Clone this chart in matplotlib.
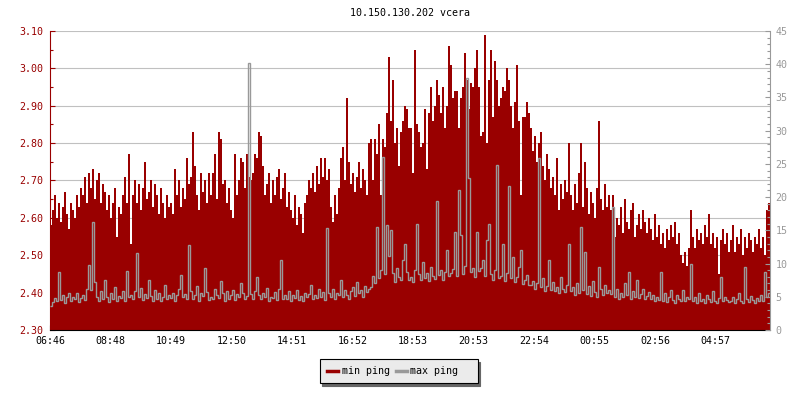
import numpy as np
import matplotlib
matplotlib.use("Agg")
import matplotlib.pyplot as plt
from matplotlib.lines import Line2D
from matplotlib.ticker import MultipleLocator, FormatStrFormatter

title = "10.150.130.202 vcera"
series_names = ["min ping", "max ping"]
step_min = 4            # minutes per sample
tick_step_min = 121     # minutes between time labels
tick_labels = ["06:46", "08:48", "10:49", "12:50", "14:51", "16:52",
               "18:53", "20:53", "22:54", "00:55", "02:56", "04:57"]

# min ping [ms] (left axis), 4-minute samples from 06:46
min_ping = [
    2.58, 2.62, 2.66, 2.60, 2.64, 2.59, 2.63, 2.67, 2.61, 2.57, 2.64, 2.62, 2.60, 2.66, 2.63, 2.68, 2.66, 2.71, 2.64, 2.72,
    2.68, 2.73, 2.65, 2.70, 2.72, 2.64, 2.69, 2.67, 2.62, 2.66, 2.60, 2.64, 2.68, 2.55, 2.63, 2.61, 2.66, 2.71, 2.64, 2.77,
    2.53, 2.66, 2.70, 2.64, 2.69, 2.62, 2.68, 2.75, 2.65, 2.67, 2.70, 2.63, 2.69, 2.66, 2.61, 2.68, 2.64, 2.60, 2.66, 2.63,
    2.64, 2.61, 2.73, 2.66, 2.70, 2.63, 2.68, 2.65, 2.76, 2.69, 2.71, 2.83, 2.74, 2.66, 2.62, 2.72, 2.67, 2.70, 2.64, 2.72,
    2.66, 2.72, 2.77, 2.65, 2.83, 2.81, 2.69, 2.70, 2.64, 2.68, 2.62, 2.60, 2.77, 2.66, 2.70, 2.76, 2.75, 2.68, 2.77, 2.71,
    2.70, 2.72, 2.77, 2.76, 2.83, 2.82, 2.74, 2.66, 2.69, 2.72, 2.64, 2.70, 2.66, 2.71, 2.73, 2.65, 2.68, 2.72, 2.63, 2.67,
    2.62, 2.60, 2.66, 2.58, 2.63, 2.61, 2.56, 2.64, 2.66, 2.70, 2.68, 2.72, 2.67, 2.74, 2.69, 2.76, 2.71, 2.76, 2.70, 2.73,
    2.63, 2.59, 2.66, 2.61, 2.68, 2.76, 2.79, 2.70, 2.92, 2.75, 2.69, 2.72, 2.67, 2.71, 2.75, 2.68, 2.73, 2.70, 2.66, 2.80,
    2.81, 2.70, 2.81, 2.77, 2.85, 2.66, 2.81, 2.79, 2.88, 3.03, 2.86, 2.97, 2.80, 2.84, 2.74, 2.83, 2.86, 2.90, 2.89, 2.84,
    2.84, 2.72, 3.05, 2.85, 2.83, 2.79, 2.80, 2.89, 2.73, 2.88, 2.95, 2.86, 2.90, 2.97, 2.93, 2.88, 2.95, 2.84, 2.90, 3.06,
    3.01, 2.92, 2.94, 2.94, 2.84, 2.92, 2.95, 3.04, 2.97, 2.89, 2.96, 2.95, 3.00, 3.05, 2.95, 2.82, 2.83, 3.09, 2.80, 2.97,
    3.05, 2.87, 3.02, 2.97, 2.90, 2.92, 2.95, 2.94, 3.00, 2.97, 2.90, 2.84, 2.91, 3.01, 2.86, 2.66, 2.87, 2.87, 2.91, 2.88,
    2.84, 2.78, 2.82, 2.75, 2.80, 2.83, 2.74, 2.70, 2.77, 2.73, 2.68, 2.71, 2.66, 2.76, 2.62, 2.69, 2.65, 2.70, 2.67, 2.80,
    2.66, 2.62, 2.69, 2.64, 2.72, 2.80, 2.63, 2.75, 2.68, 2.61, 2.67, 2.64, 2.60, 2.68, 2.86, 2.65, 2.62, 2.69, 2.63, 2.66,
    2.62, 2.66, 2.55, 2.60, 2.58, 2.63, 2.56, 2.65, 2.59, 2.57, 2.62, 2.64, 2.55, 2.58, 2.61, 2.57, 2.62, 2.59, 2.56, 2.60,
    2.57, 2.54, 2.61, 2.55, 2.58, 2.53, 2.56, 2.52, 2.57, 2.54, 2.58, 2.55, 2.59, 2.53, 2.56, 2.50, 2.48, 2.51, 2.47, 2.52,
    2.62, 2.55, 2.52, 2.57, 2.54, 2.56, 2.53, 2.58, 2.55, 2.61, 2.53, 2.56, 2.52, 2.55, 2.45, 2.54, 2.57, 2.53, 2.56, 2.51,
    2.54, 2.58, 2.51, 2.55, 2.53, 2.57, 2.50, 2.55, 2.52, 2.56, 2.54, 2.51, 2.55, 2.53, 2.57, 2.52, 2.55, 2.50, 2.62, 2.64,
]

# max ping [ms] (right axis)
max_ping = [
    3.6, 4.2, 4.8, 4.4, 8.8, 4.5, 5.2, 4.1, 4.9, 5.6, 4.3, 5.0, 4.6, 5.5, 4.2, 4.8, 5.3, 4.5, 6.2, 9.8,
    6.0, 16.3, 7.2, 5.0, 4.4, 5.8, 4.6, 7.6, 4.9, 4.2, 5.5, 4.7, 6.4, 4.3, 5.1, 4.8, 5.9, 4.4, 8.9, 5.0,
    5.2, 4.6, 5.8, 11.6, 5.0, 6.3, 4.5, 5.4, 4.8, 7.5, 5.1, 4.4, 6.0, 4.7, 5.5, 4.3, 5.0, 6.8, 4.6, 5.3,
    4.8, 5.6, 4.3, 5.2, 6.1, 8.3, 4.9, 5.4, 4.6, 12.8, 5.8, 4.7, 5.3, 6.6, 4.4, 5.5, 5.1, 9.4, 5.7, 4.5,
    5.0, 4.6, 6.2, 5.3, 4.8, 7.4, 5.5, 4.4, 5.9, 4.7, 5.2, 6.0, 4.5, 5.4, 4.9, 7.0, 5.6, 4.6, 5.1, 40.2,
    5.4, 4.7, 5.9, 8.0, 5.2, 4.6, 5.5, 4.9, 6.3, 4.4, 5.0, 4.8, 5.7, 4.5, 6.1, 10.5, 4.7, 5.3, 4.6, 5.8,
    4.4, 5.3, 4.8, 6.0, 4.5, 5.1, 4.3, 5.6, 4.9, 5.4, 6.7, 4.6, 5.2, 4.8, 6.2, 5.0, 5.7, 4.5, 15.3, 5.5,
    5.0, 6.1, 4.6, 5.5, 5.2, 7.5, 4.9, 6.0, 5.3, 4.7, 5.8, 6.4, 5.1, 7.2, 5.5, 6.0, 4.9, 6.6, 5.7, 6.2,
    6.5, 8.2, 7.0, 15.5, 7.8, 9.0, 26.0, 8.4, 15.8, 11.1, 15.0, 8.6, 7.2, 9.4, 8.0, 7.5, 10.5, 13.0, 8.8, 7.6,
    8.0, 7.2, 9.0, 16.0, 8.4, 7.6, 10.2, 7.9, 8.6, 7.3, 9.5, 8.1, 7.7, 19.4, 8.3, 9.1, 7.5, 8.8, 12.0, 8.2,
    8.6, 9.2, 14.8, 8.1, 21.0, 14.3, 8.4, 9.6, 37.9, 22.9, 8.7, 9.3, 8.0, 14.7, 8.9, 9.4, 10.5, 8.2, 13.5, 16.0,
    8.4, 7.6, 9.0, 24.8, 7.9, 8.2, 13.0, 7.4, 8.6, 21.7, 7.8, 11.0, 7.2, 8.0, 9.5, 12.0, 6.9, 7.6, 8.3, 6.8,
    6.8, 7.4, 6.2, 7.0, 25.9, 6.5, 7.8, 5.9, 6.6, 10.5, 6.0, 7.2, 5.8, 6.4, 5.6, 8.0, 6.2, 5.7, 6.8, 13.0,
    5.8, 6.4, 5.2, 7.0, 5.6, 15.5, 6.0, 11.7, 5.4, 6.6, 5.1, 7.4, 5.7, 5.0, 9.5, 6.2, 5.3, 6.8, 5.5, 6.0,
    5.4, 18.5, 5.0, 6.2, 4.7, 5.6, 4.9, 7.0, 5.2, 8.7, 4.6, 5.8, 5.0, 7.6, 4.8, 5.4, 6.2, 4.6, 5.1, 5.7,
    4.6, 5.2, 4.3, 5.0, 4.5, 8.7, 4.4, 5.5, 4.2, 4.9, 6.0, 4.5, 4.1, 5.3, 4.7, 4.4, 6.0, 4.3, 5.0, 4.6,
    10.0, 4.4, 4.9, 4.1, 5.5, 4.3, 4.7, 4.0, 5.2, 4.6, 4.2, 5.8, 4.4, 4.1, 4.8, 8.0, 4.3, 5.0, 4.5, 4.2,
    4.3, 5.0, 4.1, 4.7, 5.6, 4.4, 4.0, 9.5, 4.6, 4.2, 5.1, 4.5, 4.0, 4.8, 4.3, 5.3, 4.4, 8.7, 4.9, 5.5,
]

RED = "#990000"
GRAY = "#999999"
FS = 7.2

plt.rcParams["font.family"] = ["DejaVu Sans Mono", "DejaVu Sans"]
plt.rcParams["font.size"] = FS

fig = plt.figure(figsize=(8, 4), dpi=100)
ax = fig.add_axes([50 / 800, 70 / 400, 720 / 800, 299 / 400])
ax2 = ax.twinx()

n = len(min_ping)
edges = np.arange(n + 1) * step_min
ax.stairs(min_ping, edges, baseline=2.30, fill=True, color=RED, lw=0)
ax2.stairs(max_ping, edges, baseline=None, color=GRAY, lw=1.0)

ax.set_xlim(0, n * step_min)
ax.set_ylim(2.30, 3.10)
ax2.set_ylim(0, 45)

ax.set_xticks([k * tick_step_min for k in range(len(tick_labels))])
ax.set_xticklabels(tick_labels)
ax.yaxis.set_major_locator(MultipleLocator(0.1))
ax.yaxis.set_minor_locator(MultipleLocator(0.05))
ax.yaxis.set_major_formatter(FormatStrFormatter("%.2f"))
ax2.yaxis.set_major_locator(MultipleLocator(5))
ax2.yaxis.set_minor_locator(MultipleLocator(1))

ax.grid(axis="y", which="major", color="#c0c0c0", lw=0.8)
ax.set_axisbelow(True)

ax.tick_params(axis="x", direction="in", length=3.6, width=0.8, color="black",
               labelcolor="black", pad=4, labelsize=FS)
ax.tick_params(axis="y", which="major", direction="in", length=3.6, width=0.8,
               color=RED, labelcolor=RED, pad=5, labelsize=FS)
ax.tick_params(axis="y", which="minor", direction="in", length=2.2, width=0.8, color=RED)
ax2.tick_params(axis="y", which="major", direction="in", length=3.6, width=0.8,
                color=GRAY, labelcolor=GRAY, pad=4, labelsize=FS)
ax2.tick_params(axis="y", which="minor", direction="in", length=2.2, width=0.8, color=GRAY)

for s in ("top", "right"):
    ax.spines[s].set_visible(False)
ax.spines["left"].set_color(RED)
ax.spines["left"].set_linewidth(0.8)
ax.spines["bottom"].set_color("black")
ax.spines["bottom"].set_linewidth(0.8)
for s in ("top", "left", "bottom"):
    ax2.spines[s].set_visible(False)
ax2.spines["right"].set_color(GRAY)
ax2.spines["right"].set_linewidth(0.8)

fig.text(410 / 800, 1 - 12.5 / 400, title, ha="center", va="center", fontsize=FS, color="black")

handles = [Line2D([], [], color=RED, lw=2.5), Line2D([], [], color=GRAY, lw=2.5)]
leg = fig.legend(handles, [series_names[0], series_names[1] + "  "], loc="center",
                 bbox_to_anchor=(398.5 / 800, 1 - 371 / 400), ncol=2, frameon=True,
                 fancybox=False, shadow={"color": "#666666", "alpha": 1.0},
                 edgecolor="black", facecolor="#ebebeb", framealpha=1,
                 handlelength=1.1, handletextpad=0.4, columnspacing=0.6,
                 borderpad=0.7, borderaxespad=0, fontsize=FS)
leg.get_frame().set_linewidth(0.8)

fig.savefig("out.png", dpi=100)
